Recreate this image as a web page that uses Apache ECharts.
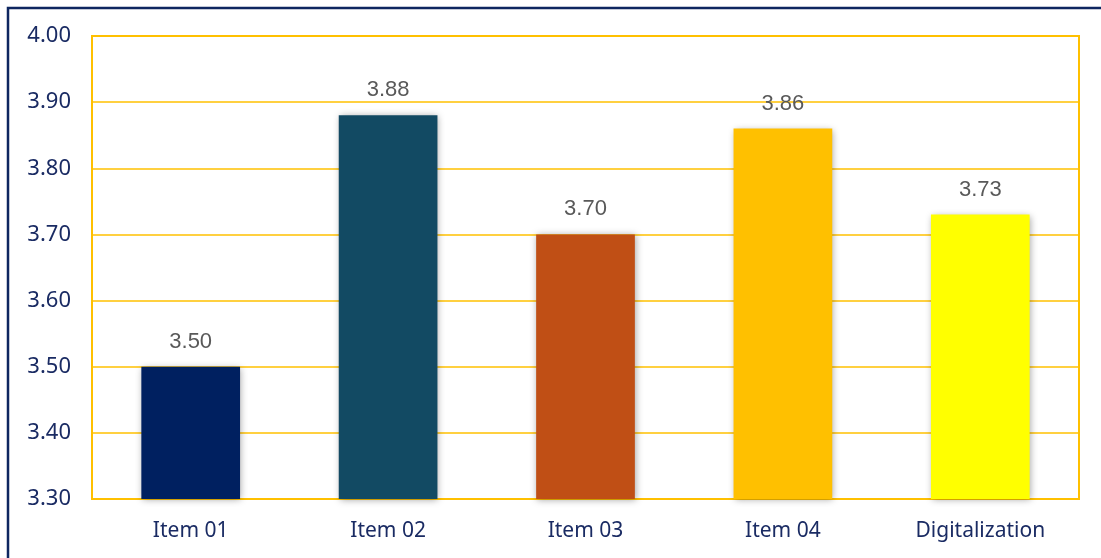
<!DOCTYPE html>
<html>
<head>
<meta charset="utf-8">
<script src="https://cdn.jsdelivr.net/npm/echarts@6/dist/echarts.min.js"></script>
<style>
  html, body { margin: 0; padding: 0; background: #ffffff; }
  #chart { width: 1101px; height: 558px; }
</style>
</head>
<body>
<div id="chart"></div>
<script>
// Mean scores per item
const categories = ['Item 01', 'Item 02', 'Item 03', 'Item 04', 'Digitalization'];
const values = [3.50, 3.88, 3.70, 3.86, 3.73];
const barColors = ['#002060', '#124A63', '#C04F15', '#FFC000', '#FFFF00'];
const yTicks = { min: 3.3, max: 4.0, step: 0.1 };

const chart = echarts.init(document.getElementById('chart'), null, { renderer: 'canvas' });

const gold = '#FFC000';
const navyText = '#1A2B63';

chart.setOption({
  animation: false,
  backgroundColor: '#ffffff',
  graphic: [{
    type: 'rect',
    shape: { x: 8, y: 8, width: 1200, height: 700 },
    style: { fill: 'none', stroke: '#0E2660', lineWidth: 2.5 },
    silent: true
  }],
  grid: { left: 92, right: 22, top: 36, bottom: 59, show: true, borderColor: gold, borderWidth: 2, backgroundColor: 'transparent' },
  xAxis: {
    type: 'category',
    data: categories,
    axisLine: { show: false },
    axisTick: { show: false },
    axisLabel: { color: navyText, fontSize: 21, fontFamily: 'Noto Sans, sans-serif', margin: 22 }
  },
  yAxis: {
    type: 'value',
    min: yTicks.min,
    max: yTicks.max,
    interval: yTicks.step,
    axisLine: { show: false },
    axisTick: { show: false },
    splitLine: { lineStyle: { color: gold, width: 1.5 } },
    axisLabel: {
      color: navyText, fontSize: 22, fontFamily: 'Noto Sans, sans-serif', margin: 21,
      formatter: v => v.toFixed(2)
    }
  },
  series: [{
    type: 'bar',
    barWidth: '50%',
    data: values.map((v, i) => ({
      value: v,
      itemStyle: {
        color: barColors[i],
        shadowColor: 'rgba(0,0,0,0.35)',
        shadowBlur: 7,
        shadowOffsetX: 1,
        shadowOffsetY: 1
      }
    })),
    label: {
      show: true,
      position: 'top',
      distance: 14,
      color: '#595959',
      fontSize: 22,
      fontFamily: 'Liberation Sans, Arial, sans-serif',
      formatter: p => p.value.toFixed(2)
    }
  }]
});
</script>
</body>
</html>
